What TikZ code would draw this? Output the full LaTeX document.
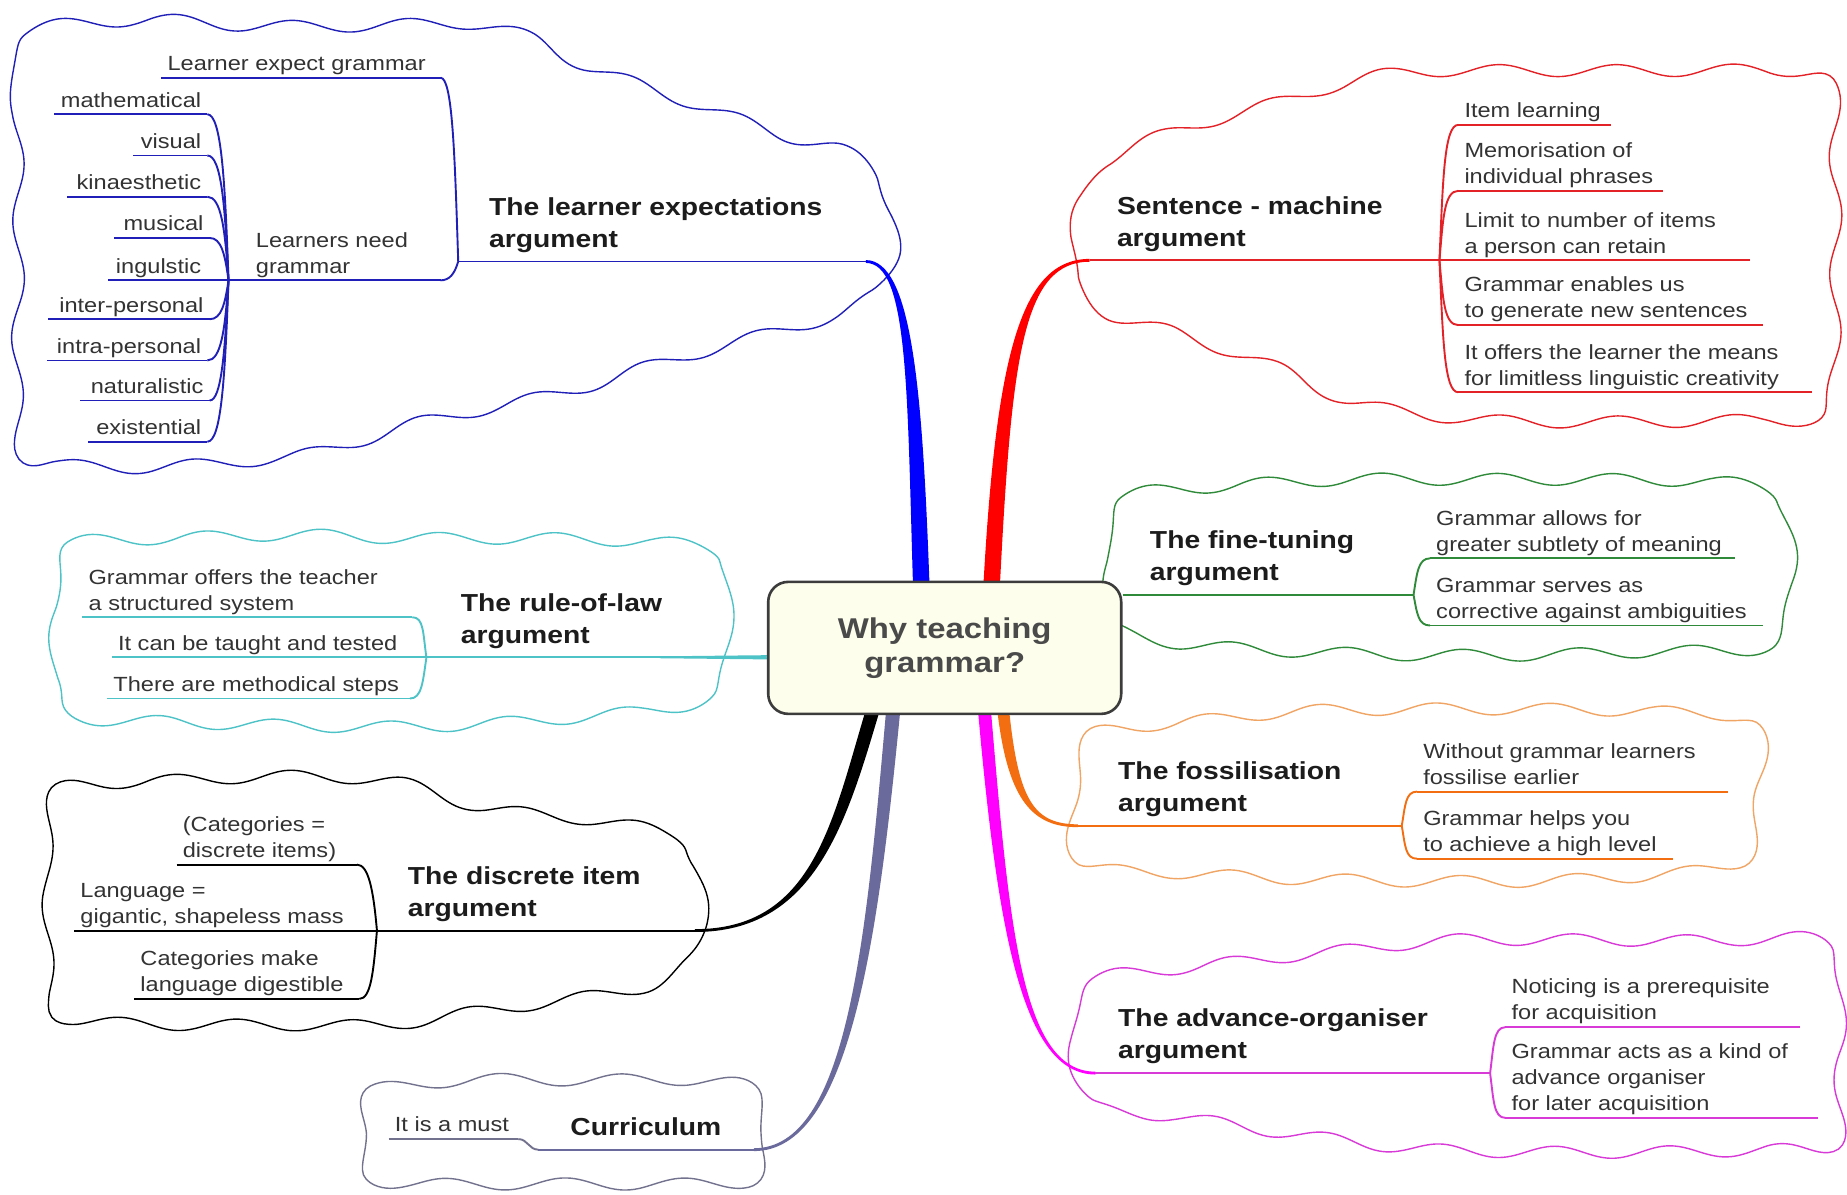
\documentclass[tikz,border=0pt]{standalone}
\usepackage{fontspec}
\setmainfont{Liberation Sans}[FakeStretch=1.15]
\usetikzlibrary{decorations}
\definecolor{cblue}{HTML}{0000FF}
\definecolor{lblue}{HTML}{2020B8}
\definecolor{cred}{HTML}{FF0000}
\definecolor{lred}{HTML}{E32228}
\definecolor{ccyan}{HTML}{4EC3C7}
\definecolor{cgreen}{HTML}{2F8A3A}
\definecolor{corange}{HTML}{F26E10}
\definecolor{lorange}{HTML}{F0A565}
\definecolor{cmag}{HTML}{FF00FF}
\definecolor{lmag}{HTML}{D83AD8}
\definecolor{cslate}{HTML}{6A6A9C}
\definecolor{lslate}{HTML}{72728E}
\definecolor{txt}{HTML}{333333}
\definecolor{ttxt}{HTML}{1C1C1C}
\definecolor{ctxt}{HTML}{4A4A4A}
\definecolor{cream}{HTML}{FEFEEC}
\definecolor{cborder}{HTML}{3C3C3C}
\pgfdeclaredecoration{cloudwave}{init}{
  \state{init}[width=0pt, next state=step]{\pgfpathmoveto{\pgfpointorigin}}
  \state{step}[switch if less than=4pt to final, width=4pt]{
    \pgfmathsetmacro\cwn{max(1,round(\pgfdecoratedpathlength/115))}
    \pgfmathsetmacro\cwph{360*\cwn*((\pgfdecoratedcompleteddistance+4)/\pgfdecoratedpathlength)}
    \pgfpathlineto{\pgfpoint{4pt}{6pt*sin(\cwph)}}
  }
  \state{final}{\pgfpathlineto{\pgfpointdecoratedpathlast}}
}
\tikzset{
  cloud/.style={decorate, decoration={cloudwave}, line width=1.4pt, line join=round},
  ln/.style={line width=1.9pt},
  ch/.style={inner xsep=6pt, inner ysep=2pt, font=\fontsize{20.5}{26}\selectfont, text=txt, align=left, execute at end node={\rule[-5pt]{0pt}{5pt}}},
  chr/.style={ch, align=right},
  tp/.style={inner xsep=6pt, inner ysep=8pt, font=\bfseries\fontsize{24.6}{32}\selectfont, text=ttxt, align=left, execute at end node={\rule[-6pt]{0pt}{6pt}}},
  central/.style={draw=cborder, line width=2.6pt, fill=cream, rounded corners=20pt, minimum width=353pt, minimum height=132pt, align=center, font=\bfseries\fontsize{28.6}{34}\selectfont, text=ctxt}
}
\begin{document}
\begin{tikzpicture}[x=1.178pt, y=-1.178pt]
\fill[white] (0,0) rectangle (1568,1014.4);
\useasboundingbox (0,0) rectangle (1568,1014.4);

% ---------- clouds ----------
\draw[cloud, lblue] plot[smooth cycle, tension=0.5] coordinates {(16,30) (125,17) (214,22) (309,22) (400,20) (450,32) (500,57) (578,84) (663,114) (712,126) (745,148) (758,180) (759,215) (745,247) (715,266) (653,283) (598,298) (548,312) (498,328) (433,343) (359,358) (299,376) (249,388) (199,392) (125,397) (50,394) (18,382) (15,300) (16,200) (15,100)};
\draw[cloud, lred] plot[smooth cycle, tension=0.5] coordinates {(913,240) (910,205) (919,170) (936,138) (995,112) (1064,93) (1133,73) (1194,61) (1300,60) (1400,60) (1500,60) (1553,68) (1558,150) (1558,250) (1552,348) (1500,356) (1400,358) (1300,358) (1237,355) (1150,342) (1086,313) (999,283) (943,267)};
\draw[cloud, ccyan] plot[smooth cycle, tension=0.5] coordinates {(55,464) (150,457) (250,454) (350,457) (450,457) (550,460) (612,470) (618,526) (610,588) (550,603) (450,612) (350,617) (250,616) (150,613) (62,608) (46,580) (48,520)};
\draw[cloud, cgreen] plot[smooth cycle, tension=0.5] coordinates {(948,424) (1050,412) (1150,407) (1250,407) (1350,407) (1450,409) (1510,420) (1521,490) (1505,547) (1400,553) (1300,556) (1200,556) (1100,553) (1000,546) (942,530) (943,480)};
\draw[cloud, lorange] plot[smooth cycle, tension=0.5] coordinates {(927,624) (1000,614) (1100,604) (1200,602) (1300,602) (1400,604) (1488,613) (1494,673) (1480,730) (1400,743) (1300,748) (1200,748) (1100,746) (1000,741) (919,733) (911,680)};
\draw[cloud, lmag] plot[smooth cycle, tension=0.5] coordinates {(923,834) (1021,820) (1150,806) (1236,798) (1350,798) (1450,799) (1555,803) (1561,900) (1559,970) (1500,976) (1400,978) (1300,978) (1200,975) (1100,963) (1000,948) (927,938) (911,886)};
\draw[cloud, black] plot[smooth cycle, tension=0.5] coordinates {(47,673) (123,664) (247,659) (337,664) (411,686) (494,695) (574,709) (590,732) (598,787) (589,814) (553,836) (494,847) (411,858) (329,870) (247,870) (165,870) (64,866) (43,847) (41,760)};
\draw[cloud, lslate] plot[smooth cycle, tension=0.5] coordinates {(315,927) (400,917) (500,917) (600,917) (642,927) (651,968) (637,1002) (550,1005) (450,1005) (350,1005) (312,998) (306,965)};

% ---------- fork coordinates ----------
\coordinate (B1) at (389,222);
\coordinate (bE) at (735,222);
\coordinate (b2f) at (194,238);
\coordinate (R) at (1222,221);
\coordinate (rE) at (925,221);
\coordinate (C) at (362,558);
\coordinate (G) at (1200,505);
\coordinate (O) at (1190,701);
\coordinate (oE) at (915,701);
\coordinate (M) at (1265,911);
\coordinate (mE) at (930,911);
\coordinate (K) at (320,790);
\coordinate (kE) at (590,790);
\coordinate (Q) at (457,976);
\coordinate (qE) at (640,976);

% ---------- thick tapered branches ----------
\fill[cblue] (775,494) .. controls (770,330) and (771,223.2) .. (735,223.2) -- (735,220.8) .. controls (774,220.8) and (783,330) .. (789,494) -- cycle;
\fill[cred] (835,494) .. controls (846,300) and (867,219.8) .. (925,219.8) -- (925,222.2) .. controls (869,222.2) and (859,300) .. (849,494) -- cycle;
\fill[black] (746,606) .. controls (718,700) and (691,791.2) .. (590,791.2) -- (590,788.8) .. controls (689,788.8) and (706,700) .. (734,606) -- cycle;
\fill[cslate] (764,606) .. controls (745,800) and (721,977.2) .. (640,977.2) -- (640,974.8) .. controls (719,974.8) and (735,800) .. (752,606) -- cycle;
\fill[cmag] (841.5,606) .. controls (857,790) and (868,909.8) .. (930,909.8) -- (930,912.2) .. controls (868,912.2) and (847,790) .. (830.5,606) -- cycle;
\fill[corange] (857,606) .. controls (865,680) and (878,699.8) .. (915,699.8) -- (915,702.2) .. controls (877,702.2) and (856,680) .. (847,606) -- cycle;
\fill[ccyan] (652,556.2) -- (560,557.2) -- (560,558.8) -- (652,559.8) -- cycle;

% ---------- central node ----------
\node[central] (c) at (802,550) {Why teaching\\grammar?};

% ---------- blue: learner expectations ----------
\draw[ln, lblue] (bE) -- (B1);
\node[tp, anchor=south west] (tb) at (410,222) {The learner expectations\\argument};
\node[ch, anchor=south west] (b1) at (137,66) {Learner expect grammar};
\draw[ln, lblue] (b1.south west) -- ++(237,0) coordinate (b1e);
\draw[ln, lblue] (B1) .. controls +(-3,-94) and +(10,0) .. (b1e);
\node[ch, anchor=south west] (b2) at (212,238) {Learners need\\grammar};
\draw[ln, lblue] (b2f) -- (b2.south west) -- ++(162,0) coordinate (b2e);
\draw[ln, lblue] (B1) .. controls +(-3,10) and +(8,0) .. (b2e);

\node[chr, anchor=south east] (s1) at (176,97) {mathematical};
\draw[ln, lblue] (s1.south east) -- ++(-130,0);
\draw[ln, lblue] (b2f) .. controls +(-3,-85) and +(12,0) .. (s1.south east);
\node[chr, anchor=south east] (s2) at (176,132) {visual};
\draw[ln, lblue] (s2.south east) -- ++(-63,0);
\draw[ln, lblue] (b2f) .. controls +(-3,-64) and +(12,0) .. (s2.south east);
\node[chr, anchor=south east] (s3) at (176,167) {kinaesthetic};
\draw[ln, lblue] (s3.south east) -- ++(-119,0);
\draw[ln, lblue] (b2f) .. controls +(-3,-43) and +(12,0) .. (s3.south east);
\node[chr, anchor=south east] (s4) at (178,202) {musical};
\draw[ln, lblue] (s4.south east) -- ++(-81,0);
\draw[ln, lblue] (b2f) .. controls +(-3,-22) and +(10,0) .. (s4.south east);
\node[chr, anchor=south east] (s5) at (176,238) {ingulstic};
\draw[ln, lblue] (b2f) -- (s5.south east) -- ++(-84,0);
\node[chr, anchor=south east] (s6) at (178,271) {inter-personal};
\draw[ln, lblue] (s6.south east) -- ++(-137,0);
\draw[ln, lblue] (b2f) .. controls +(-3,20) and +(10,0) .. (s6.south east);
\node[chr, anchor=south east] (s7) at (176,306) {intra-personal};
\draw[ln, lblue] (s7.south east) -- ++(-136,0);
\draw[ln, lblue] (b2f) .. controls +(-3,41) and +(12,0) .. (s7.south east);
\node[chr, anchor=south east] (s8) at (178,340) {naturalistic};
\draw[ln, lblue] (s8.south east) -- ++(-110,0);
\draw[ln, lblue] (b2f) .. controls +(-3,61) and +(10,0) .. (s8.south east);
\node[chr, anchor=south east] (s9) at (176,375) {existential};
\draw[ln, lblue] (s9.south east) -- ++(-101,0);
\draw[ln, lblue] (b2f) .. controls +(-3,82) and +(12,0) .. (s9.south east);

% ---------- red: sentence machine ----------
\draw[ln, lred] (rE) -- (R);
\node[tp, anchor=south west] (tr) at (943,221) {Sentence - machine\\argument};
\node[ch, anchor=south west] (r1) at (1238,106) {Item learning};
\draw[ln, lred] (r1.south west) -- ++(130,0);
\draw[ln, lred] (R) .. controls +(3,-69) and +(-12,0) .. (r1.south west);
\node[ch, anchor=south west] (r2) at (1238,162) {Memorisation of\\individual phrases};
\draw[ln, lred] (r2.south west) -- ++(174,0);
\draw[ln, lred] (R) .. controls +(3,-35) and +(-12,0) .. (r2.south west);
\node[ch, anchor=south west] (r3) at (1238,221) {Limit to number of items\\a person can retain};
\draw[ln, lred] (R) -- (r3.south west) -- ++(248,0);
\node[ch, anchor=south west] (r4) at (1238,276) {Grammar enables us\\to generate new sentences};
\draw[ln, lred] (r4.south west) -- ++(259,0);
\draw[ln, lred] (R) .. controls +(3,33) and +(-12,0) .. (r4.south west);
\node[ch, anchor=south west] (r5) at (1238,333) {It offers the learner the means\\for limitless linguistic creativity};
\draw[ln, lred] (r5.south west) -- ++(300,0);
\draw[ln, lred] (R) .. controls +(3,67) and +(-12,0) .. (r5.south west);

% ---------- cyan: rule of law ----------
\draw[ln, ccyan] (C) -- (C -| c.west);
\node[tp, anchor=south west] (tc) at (386,558) {The rule-of-law\\argument};
\node[ch, anchor=south west] (c1) at (70,524) {Grammar offers the teacher\\a structured system};
\draw[ln, ccyan] (c1.south west) -- ++(280,0) coordinate (c1e);
\draw[ln, ccyan] (C) .. controls +(-3,-20) and +(10,0) .. (c1e);
\node[ch, anchor=south west] (c2) at (95,558) {It can be taught and tested};
\draw[ln, ccyan] (c2.south west) -- (C);
\node[ch, anchor=south west] (c3) at (91,593) {There are methodical steps};
\draw[ln, ccyan] (c3.south west) -- ++(257,0) coordinate (c3e);
\draw[ln, ccyan] (C) .. controls +(-3,21) and +(10,0) .. (c3e);

% ---------- green: fine tuning ----------
\draw[ln, cgreen] (G -| c.east) -- (G);
\node[tp, anchor=south west] (tg) at (971,505) {The fine-tuning\\argument};
\node[ch, anchor=south west] (g1) at (1214,474) {Grammar allows for\\greater subtlety of meaning};
\draw[ln, cgreen] (g1.south west) -- ++(259,0);
\draw[ln, cgreen] (G) .. controls +(3,-19) and +(-10,0) .. (g1.south west);
\node[ch, anchor=south west] (g2) at (1214,531) {Grammar serves as\\corrective against ambiguities};
\draw[ln, cgreen] (g2.south west) -- ++(283,0);
\draw[ln, cgreen] (G) .. controls +(3,16) and +(-10,0) .. (g2.south west);

% ---------- orange: fossilisation ----------
\draw[ln, corange] (oE) -- (O);
\node[tp, anchor=south west] (to) at (944,701) {The fossilisation\\argument};
\node[ch, anchor=south west] (o1) at (1203,672) {Without grammar learners\\fossilise earlier};
\draw[ln, corange] (o1.south west) -- ++(264,0);
\draw[ln, corange] (O) .. controls +(3,-17) and +(-10,0) .. (o1.south west);
\node[ch, anchor=south west] (o2) at (1203,729) {Grammar helps you\\to achieve a high level};
\draw[ln, corange] (o2.south west) -- ++(217,0);
\draw[ln, corange] (O) .. controls +(3,17) and +(-10,0) .. (o2.south west);

% ---------- magenta: advance organiser ----------
\draw[ln, lmag] (mE) -- (M);
\node[tp, anchor=south west] (tm) at (944,911) {The advance-organiser\\argument};
\node[ch, anchor=south west] (m1) at (1278,872) {Noticing is a prerequisite\\for acquisition};
\draw[ln, lmag] (m1.south west) -- ++(250,0);
\draw[ln, lmag] (M) .. controls +(3,-23) and +(-10,0) .. (m1.south west);
\node[ch, anchor=south west] (m2) at (1278,949) {Grammar acts as a kind of\\advance organiser\\for later acquisition};
\draw[ln, lmag] (m2.south west) -- ++(265,0);
\draw[ln, lmag] (M) .. controls +(3,23) and +(-10,0) .. (m2.south west);

% ---------- black: discrete item ----------
\draw[ln, black] (kE) -- (K);
\node[tp, anchor=south west] (tk) at (341,790) {The discrete item\\argument};
\node[ch, anchor=south west] (k1) at (150,734) {(Categories =\\discrete items)};
\draw[ln, black] (k1.south west) -- ++(153,0) coordinate (k1e);
\draw[ln, black] (K) .. controls +(-3,-34) and +(10,0) .. (k1e);
\node[ch, anchor=south west] (k2) at (63,790) {Language =\\gigantic, shapeless mass};
\draw[ln, black] (k2.south west) -- (K);
\node[ch, anchor=south west] (k3) at (114,848) {Categories make\\language digestible};
\draw[ln, black] (k3.south west) -- ++(191,0) coordinate (k3e);
\draw[ln, black] (K) .. controls +(-3,35) and +(10,0) .. (k3e);

% ---------- slate: curriculum ----------
\draw[ln, cslate] (qE) -- (Q);
\node[tp, anchor=south west] (tq) at (479,976) {Curriculum};
\node[ch, anchor=south west] (q1) at (330,967) {It is a must};
\draw[ln, lslate] (q1.south west) -- ++(110,0) coordinate (q1e);
\draw[ln, lslate] (Q) .. controls +(-8,0) and +(8,0) .. (q1e);
\end{tikzpicture}
\end{document}
